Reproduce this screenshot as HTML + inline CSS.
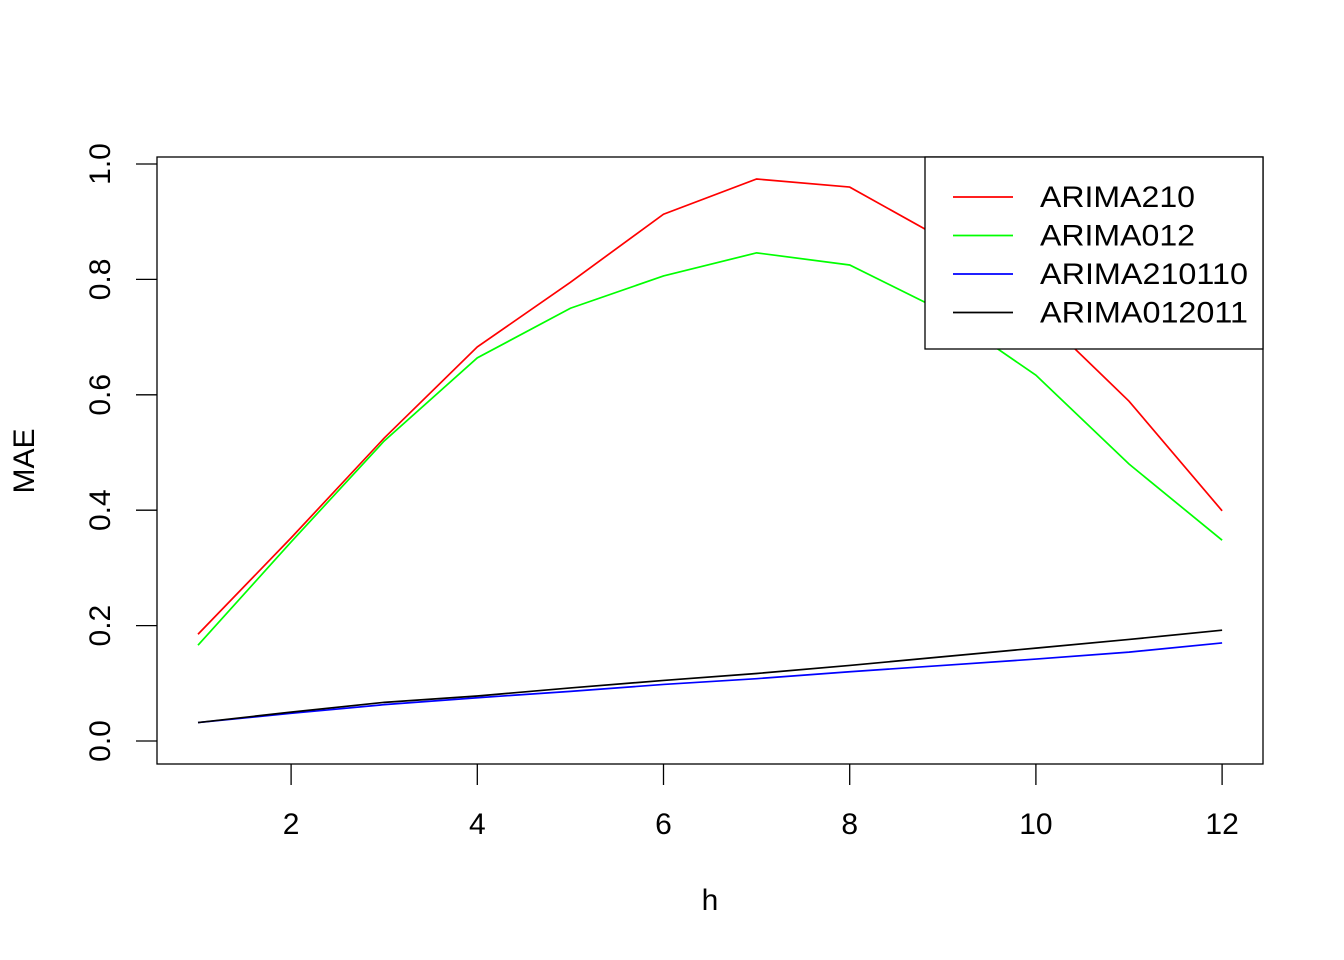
<!DOCTYPE html>
<html><head><meta charset="utf-8"><style>
html,body{margin:0;padding:0;background:#fff;}
svg{display:block;font-family:"Liberation Sans",Arial,sans-serif;}
</style></head><body>
<svg id="chart" width="1344" height="960" viewBox="0 0 1344 960"></svg>
<script>
const hValues=[1,2,3,4,5,6,7,8,9,10,11,12];
const arima210=[0.185,0.352,0.525,0.683,0.795,0.913,0.974,0.960,0.870,0.745,0.589,0.399];
const arima012=[0.166,0.345,0.520,0.664,0.750,0.806,0.846,0.825,0.745,0.634,0.480,0.348];
const arima210110=[0.032,0.048,0.063,0.075,0.086,0.098,0.108,0.120,0.131,0.142,0.154,0.170];
const arima012011=[0.032,0.050,0.067,0.078,0.092,0.105,0.117,0.131,0.146,0.161,0.176,0.192];
const xTicks=[2,4,6,8,10,12];
const yTicks=[0,0.2,0.4,0.6,0.8,1.0];
const yTickLabels=["0.0","0.2","0.4","0.6","0.8","1.0"];
const seriesNames=["ARIMA210","ARIMA012","ARIMA210110","ARIMA012011"];

const NS="http://www.w3.org/2000/svg";
const svg=document.getElementById('chart');
const X=h=>198+(h-1)*93.1;
const Y=v=>741-v*577;
function el(tag,attrs,txt){const e=document.createElementNS(NS,tag);for(const k in attrs)e.setAttribute(k,attrs[k]);if(txt!==undefined)e.textContent=txt;svg.appendChild(e);return e;}

let box=el('rect',{x:157,y:157,width:1106,height:607,fill:'none',stroke:'#000','stroke-width':1.3});



xTicks.forEach(t=>{
  let l=el('line',{x1:X(t),x2:X(t),y1:764,y2:785,stroke:'#000','stroke-width':1.3});
  
  
  let tx=el('text',{x:X(t),y:834,'font-size':30,'text-anchor':'middle'},String(t));
  
  
});
yTicks.forEach((t,i)=>{
  let l=el('line',{x1:136,x2:157,y1:Y(t),y2:Y(t),stroke:'#000','stroke-width':1.3});
  
  
  let tx=el('text',{x:0,y:0,'font-size':30,'text-anchor':'middle',transform:`translate(110,${Y(t)}) rotate(-90)`},yTickLabels[i]);
  
  
});
let xt=el('text',{x:710,y:910,'font-size':30,'text-anchor':'middle'},'h');


let yt=el('text',{x:0,y:0,'font-size':30,'text-anchor':'middle',transform:'translate(34,461) rotate(-90)'},'MAE');



const series=[[arima210,'#ff0000'],[arima012,'#00ff00'],[arima210110,'#0000ff'],[arima012011,'#000000']];
series.forEach(([vals,c],i)=>{
  const pts=vals.map((v,j)=>X(hValues[j])+','+Y(v)).join(' ');
  let p=el('polyline',{points:pts,fill:'none',stroke:c,'stroke-width':1.7});
  
  
});

let lb=el('rect',{x:925,y:157,width:338,height:192,fill:'#fff',stroke:'#000','stroke-width':1.3});


const legendLens=[155,155,208,208];
series.forEach(([v,c],i)=>{
  const y=197+i*38.5;
  let l=el('line',{x1:953,x2:1013,y1:y,y2:y,stroke:c,'stroke-width':1.7});
  
  
  let t=el('text',{x:1040,y:y+10,'font-size':30,textLength:legendLens[i],lengthAdjust:'spacingAndGlyphs'},seriesNames[i]);
  
  
});
</script>
</body></html>
